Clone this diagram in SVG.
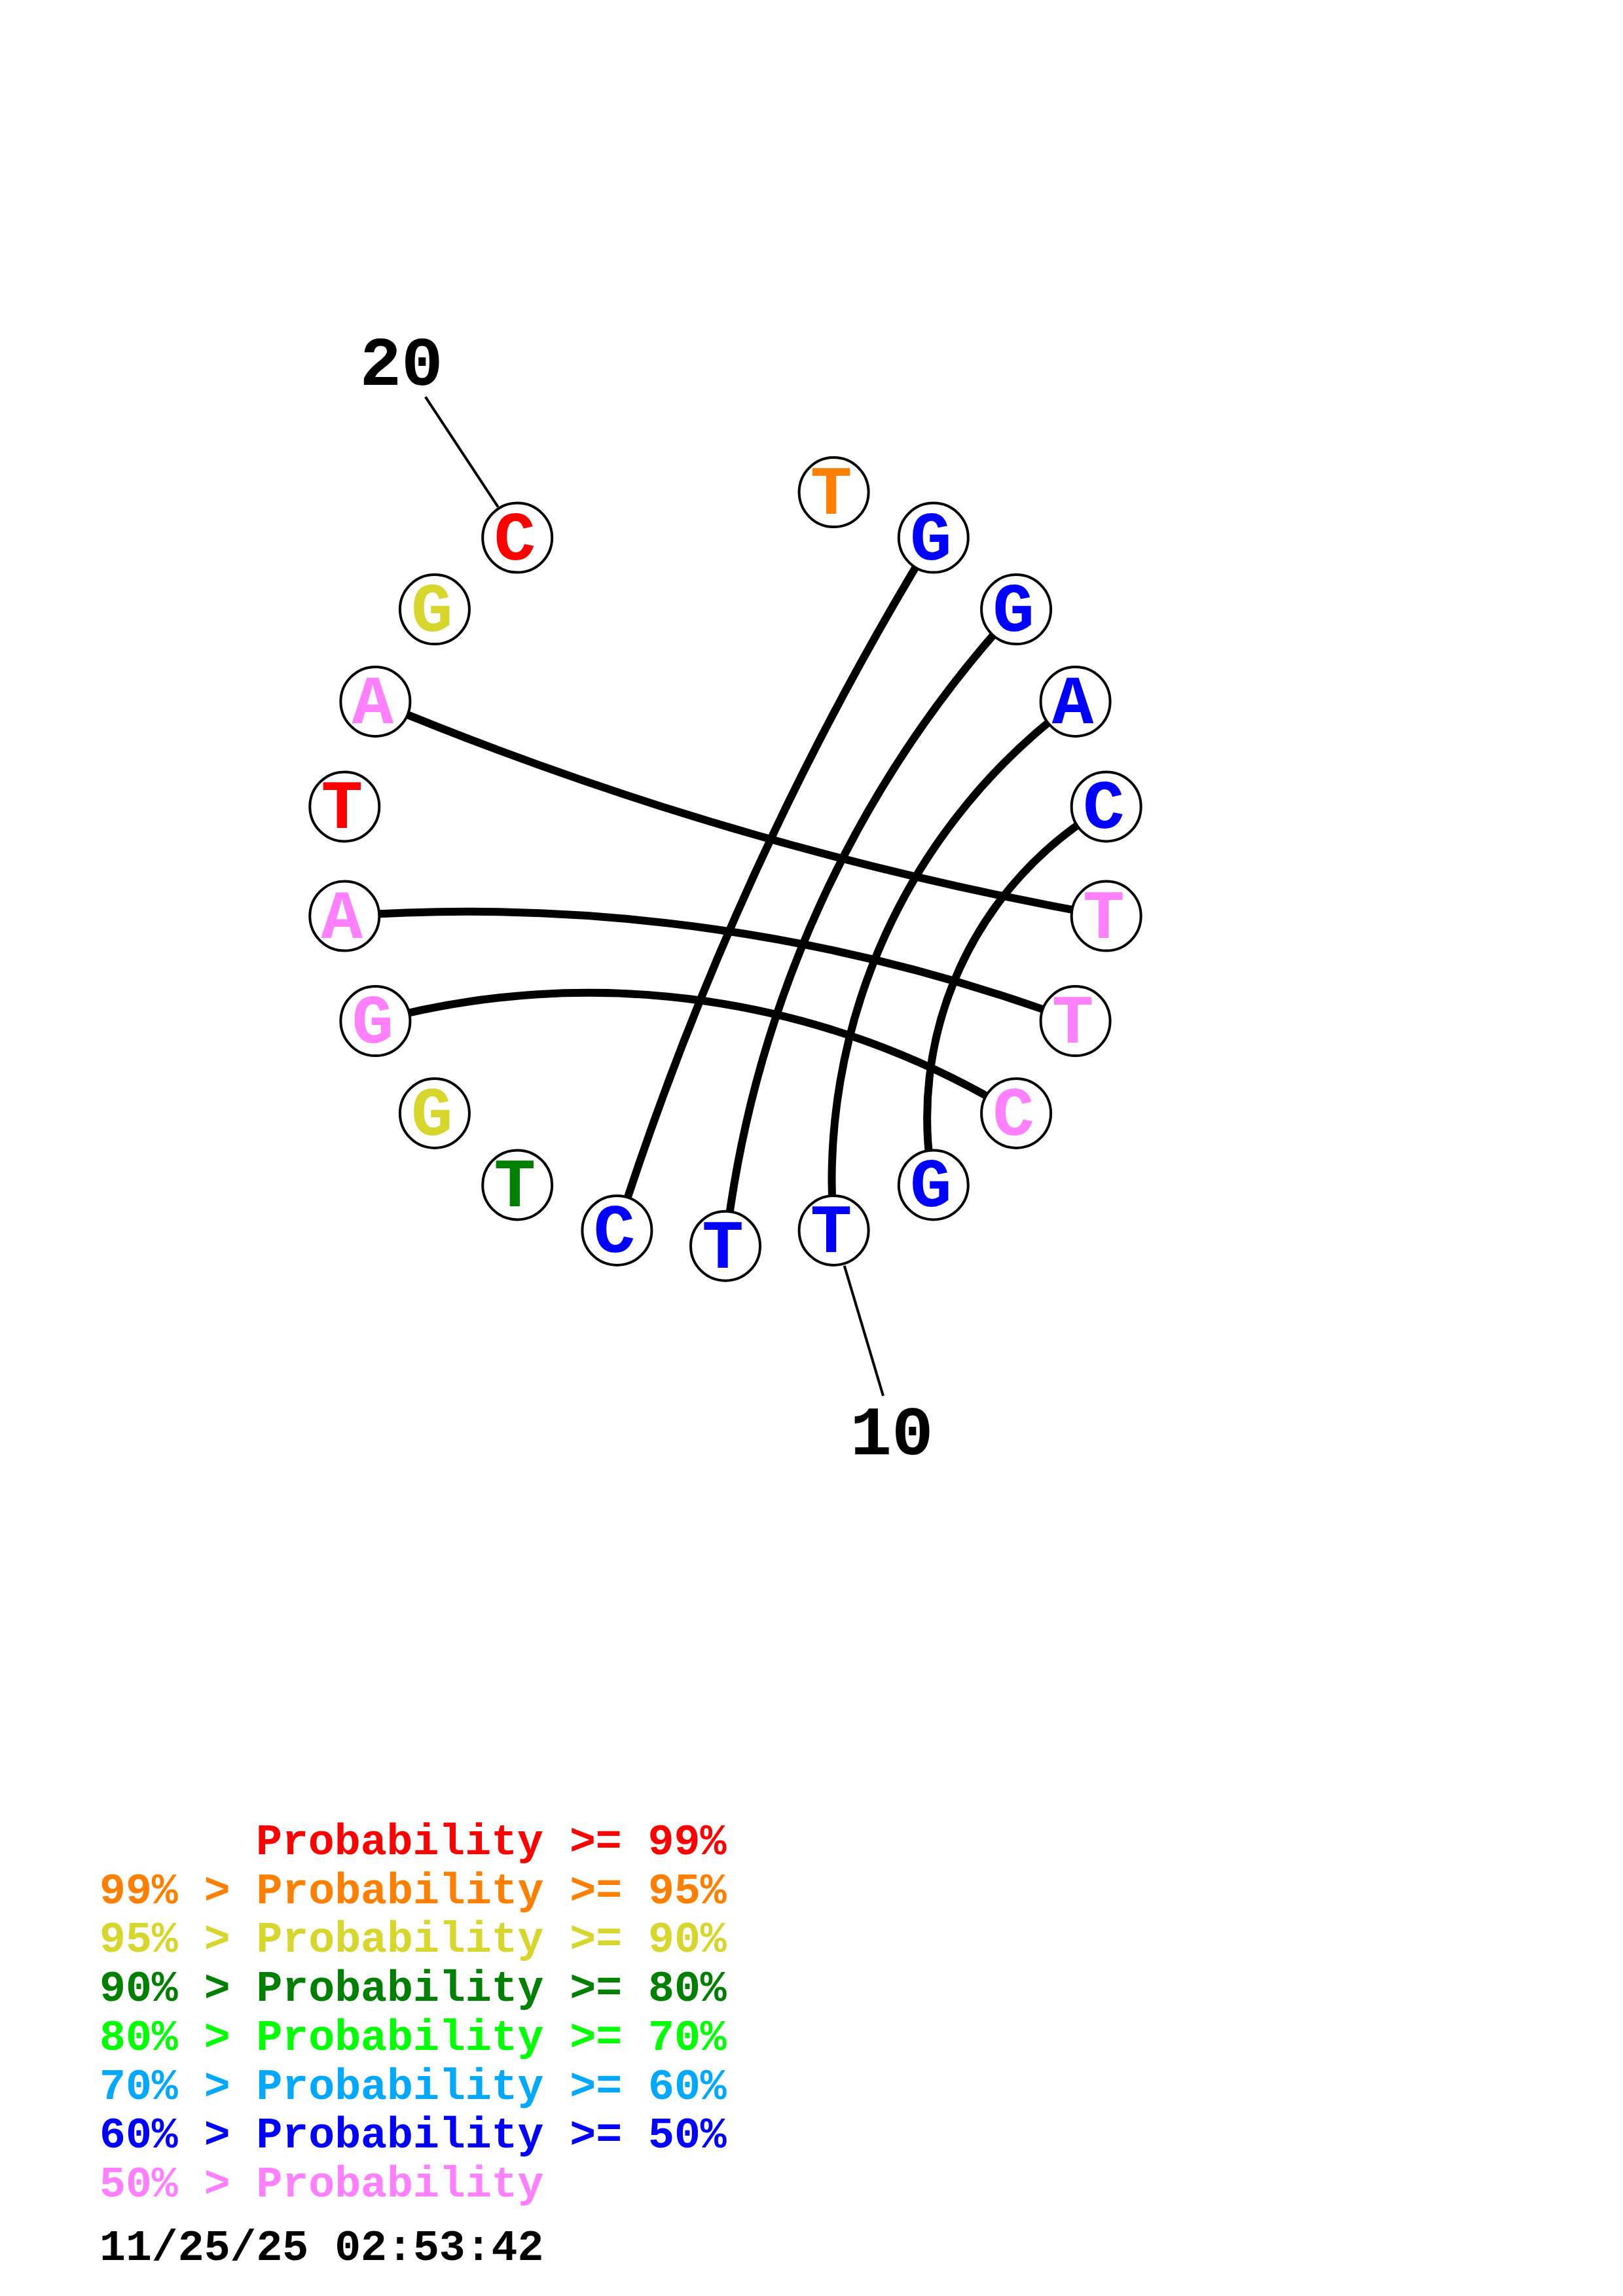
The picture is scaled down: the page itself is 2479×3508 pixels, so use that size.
<svg xmlns="http://www.w3.org/2000/svg" width="2479" height="3508" viewBox="0 0 2479 3508">
<style>
.arc{fill:none;stroke:#000;stroke-width:12;}
.tick{fill:none;stroke:#000;stroke-width:4;}
.nc{fill:#fff;stroke:#000;stroke-width:4;}
.nt{font-family:"Liberation Mono","Courier New",monospace;font-weight:bold;font-size:106px;text-anchor:middle;}
.num{font-family:"Liberation Mono","Courier New",monospace;font-weight:bold;font-size:106px;text-anchor:middle;fill:#000;}
.lg{font-family:"Liberation Mono","Courier New",monospace;font-weight:bold;font-size:66.5px;}
.red{fill:#FF0000}.org{fill:#FF8000}.yel{fill:#D6D62C}.dgr{fill:#008000}.lgr{fill:#00FF00}.sky{fill:#00A8FF}.blu{fill:#0000FF}.pnk{fill:#FF80FF}
</style>
<rect width="2479" height="3508" fill="#fff"/>
<g id="connectors">
<path class="arc" d="M1425.8,821.6 A4852,4852 0 0 0 942.4,1879.9"/>
<path class="arc" d="M1552.1,931.1 A1724,1724 0 0 0 1108,1903.7"/>
<path class="arc" d="M1642.6,1071.9 A908,908 0 0 0 1273.6,1879.9"/>
<path class="arc" d="M1689.7,1232.4 A550,550 0 0 0 1425.8,1810.4"/>
<path class="arc" d="M573.4,1071.9 A5303,5303 0 0 0 1689.7,1399.6"/>
<path class="arc" d="M526.3,1399.6 A2658,2658 0 0 1 1642.6,1560.1"/>
<path class="arc" d="M573.4,1560.1 A1249,1249 0 0 1 1552.1,1700.9"/>
<line class="tick" x1="649.8" y1="606.3" x2="760.8" y2="774.7"/>
<line class="tick" x1="1289.7" y1="1933.9" x2="1349" y2="2132.6"/>
</g>
<g id="n1"><circle class="nc" cx="1273.6" cy="752.1" r="53"/><text class="nt org" x="1269.6" y="785.1">T</text></g>
<g id="n2"><circle class="nc" cx="1425.8" cy="821.6" r="53"/><text class="nt blu" x="1421.8" y="854.6">G</text></g>
<g id="n3"><circle class="nc" cx="1552.1" cy="931.1" r="53"/><text class="nt blu" x="1548.1" y="964.1">G</text></g>
<g id="n4"><circle class="nc" cx="1642.6" cy="1071.9" r="53"/><text class="nt blu" x="1638.6" y="1104.9">A</text></g>
<g id="n5"><circle class="nc" cx="1689.7" cy="1232.4" r="53"/><text class="nt blu" x="1685.7" y="1265.4">C</text></g>
<g id="n6"><circle class="nc" cx="1689.7" cy="1399.6" r="53"/><text class="nt pnk" x="1685.7" y="1432.6">T</text></g>
<g id="n7"><circle class="nc" cx="1642.6" cy="1560.1" r="53"/><text class="nt pnk" x="1638.6" y="1593.1">T</text></g>
<g id="n8"><circle class="nc" cx="1552.1" cy="1700.9" r="53"/><text class="nt pnk" x="1548.1" y="1733.9">C</text></g>
<g id="n9"><circle class="nc" cx="1425.8" cy="1810.4" r="53"/><text class="nt blu" x="1421.8" y="1843.4">G</text></g>
<g id="n10"><circle class="nc" cx="1273.6" cy="1879.9" r="53"/><text class="nt blu" x="1269.6" y="1912.9">T</text></g>
<g id="n11"><circle class="nc" cx="1108" cy="1903.7" r="53"/><text class="nt blu" x="1104" y="1936.7">T</text></g>
<g id="n12"><circle class="nc" cx="942.4" cy="1879.9" r="53"/><text class="nt blu" x="938.4" y="1912.9">C</text></g>
<g id="n13"><circle class="nc" cx="790.2" cy="1810.4" r="53"/><text class="nt dgr" x="786.2" y="1843.4">T</text></g>
<g id="n14"><circle class="nc" cx="663.9" cy="1700.9" r="53"/><text class="nt yel" x="659.9" y="1733.9">G</text></g>
<g id="n15"><circle class="nc" cx="573.4" cy="1560.1" r="53"/><text class="nt pnk" x="569.4" y="1593.1">G</text></g>
<g id="n16"><circle class="nc" cx="526.3" cy="1399.6" r="53"/><text class="nt pnk" x="522.3" y="1432.6">A</text></g>
<g id="n17"><circle class="nc" cx="526.3" cy="1232.4" r="53"/><text class="nt red" x="522.3" y="1265.4">T</text></g>
<g id="n18"><circle class="nc" cx="573.4" cy="1071.9" r="53"/><text class="nt pnk" x="569.4" y="1104.9">A</text></g>
<g id="n19"><circle class="nc" cx="663.9" cy="931.1" r="53"/><text class="nt yel" x="659.9" y="964.1">G</text></g>
<g id="n20"><circle class="nc" cx="790.2" cy="821.6" r="53"/><text class="nt red" x="786.2" y="854.6">C</text></g>
<g id="labels">
<text class="num" x="613" y="588">20</text>
<text class="num" x="1362" y="2222">10</text>
</g>
<g id="legend">
<text class="lg red" x="391" y="2833">Probability &gt;= 99%</text>
<text class="lg org" x="152" y="2908">99% &gt; Probability &gt;= 95%</text>
<text class="lg yel" x="152" y="2982">95% &gt; Probability &gt;= 90%</text>
<text class="lg dgr" x="152" y="3057">90% &gt; Probability &gt;= 80%</text>
<text class="lg lgr" x="152" y="3132">80% &gt; Probability &gt;= 70%</text>
<text class="lg sky" x="152" y="3207">70% &gt; Probability &gt;= 60%</text>
<text class="lg blu" x="152" y="3281">60% &gt; Probability &gt;= 50%</text>
<text class="lg pnk" x="152" y="3356">50% &gt; Probability</text>
<text class="lg" x="152" y="3453" fill="#000">11/25/25 02:53:42</text>
</g>
</svg>
